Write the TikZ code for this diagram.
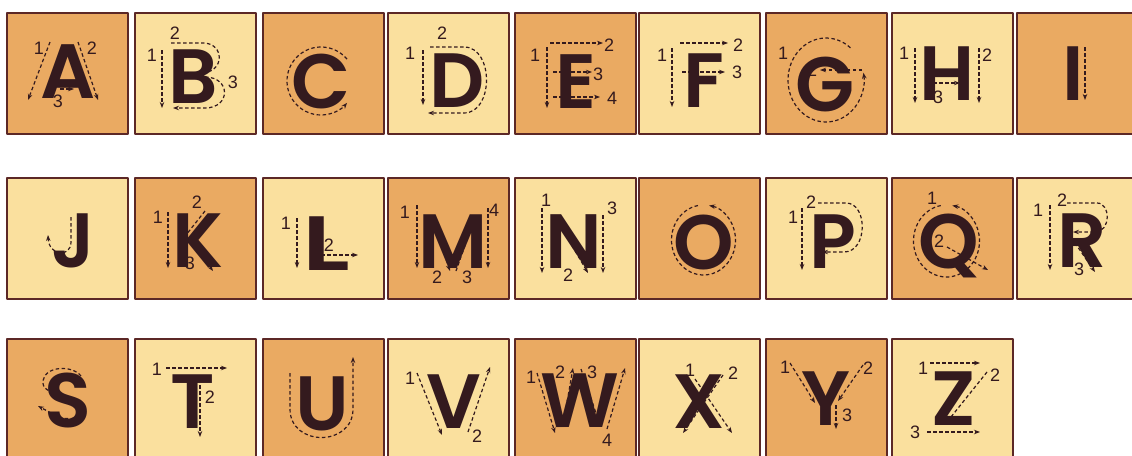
\documentclass[tikz,border=0pt]{standalone}
\usepackage{fontspec}
\setmainfont{Liberation Sans}
\IfFontExistsTF{Poppins SemiBold}
  {\newfontfamily\glyphfont{Poppins SemiBold}}
  {\newfontfamily\glyphbase{Poppins}\newcommand\glyphfont{\glyphbase\bfseries}}
\usetikzlibrary{arrows.meta}
\definecolor{tiledark}{RGB}{234,170,98}
\definecolor{tilelight}{RGB}{250,224,158}
\definecolor{rim}{RGB}{92,40,38}
\definecolor{ink}{RGB}{52,26,30}
\begin{document}
\begin{tikzpicture}[x=1pt, y=-1pt, line join=round,
    tile/.style={draw=rim, line width=1.6pt, minimum size=121pt, inner sep=0pt, outer sep=0pt},
    glyph/.style={anchor=base, inner sep=0pt, text=ink, font=\glyphfont\fontsize{77}{77}\selectfont},
    guide/.style={draw=ink, line width=1.2pt, dash pattern=on 3.5pt off 2.5pt, -{Stealth[length=6pt,width=4.5pt]}},
    num/.style={inner sep=0pt, text=ink, font=\fontsize{18}{18}\selectfont}]
  \useasboundingbox (0,0) rectangle (1132,455);
  \clip (0,0) rectangle (1132,455);
  % tiles
  \foreach \name/\tx/\ty/\shade in {A/7/13/tiledark, B/135/13/tilelight, C/263/13/tiledark,
      D/388/13/tilelight, E/515/13/tiledark, F/639/13/tilelight, G/766/13/tiledark,
      H/892/13/tilelight, I/1017/13/tiledark,
      J/7/178/tilelight, K/135/178/tiledark, L/263/178/tilelight, M/388/178/tiledark,
      N/515/178/tilelight, O/639/178/tiledark, P/766/178/tilelight, Q/892/178/tiledark,
      R/1017/178/tilelight,
      S/7/339/tiledark, T/135/339/tilelight, U/263/339/tiledark, V/388/339/tilelight,
      W/515/339/tiledark, X/639/339/tilelight, Y/766/339/tiledark, Z/892/339/tilelight}
    \node[tile, fill=\shade] (tile\name) at (\tx+60.5,\ty+60.5) {};
  % A
  \begin{scope}[shift={(tileA.north west)}]
    \node[glyph] (gA) at (61.5,85) {A};
    \draw[guide] (43,29) -- (21,87);
    \draw[guide] (71,29) -- (91,87);
    \draw[guide] (53,76) -- (67,76);
    \node[num] (A1) at (32,35) {1};
    \node[num] (A2) at (85,35) {2};
    \node[num] (A3) at (51,88) {3};
  \end{scope}
  % B
  \begin{scope}[shift={(tileB.north west)}]
    \node[glyph] (gB) at (58,90) {B};
    \draw[guide] (27,37) -- (27,95);
    \draw[guide] (36,30) -- (68,30) .. controls (90,30) and (90,60) .. (66,60) -- (42,60);
    \draw[guide] (70,64) .. controls (96,64) and (96,95) .. (70,95) -- (38,95);
    \node[num] (B1) at (17,42) {1};
    \node[num] (B2) at (40,20) {2};
    \node[num] (B3) at (98,69) {3};
  \end{scope}
  % C
  \begin{scope}[shift={(tileC.north west)}]
    \node[glyph] (gC) at (58,95) {C};
    \draw[guide] ({58+34*cos(-40)},{68+34*sin(-40)}) arc[start angle=-40, end angle=-320, x radius=34, y radius=34];
  \end{scope}
  % D
  \begin{scope}[shift={(tileD.north west)}]
    \node[glyph] (gD) at (69.5,94) {D};
    \draw[guide] (35,37) -- (35,92);
    \draw[guide] (42,34) -- (76,34) .. controls (106,34) and (106,100) .. (76,100) -- (40,100);
    \node[num] (D1) at (22,40) {1};
    \node[num] (D2) at (54,20) {2};
  \end{scope}
  % E
  \begin{scope}[shift={(tileE.north west)}]
    \node[glyph] (gE) at (61,95) {E};
    \draw[guide] (32,34) -- (32,95);
    \draw[guide] (35,30) -- (88,30);
    \draw[guide] (38,59) -- (77,59);
    \draw[guide] (38,84) -- (85,84);
    \node[num] (E1) at (20,42) {1};
    \node[num] (E2) at (94,32) {2};
    \node[num] (E3) at (83,61) {3};
    \node[num] (E4) at (97,85) {4};
  \end{scope}
  % F
  \begin{scope}[shift={(tileF.north west)}]
    \node[glyph] (gF) at (65,94) {F};
    \draw[guide] (33,35) -- (33,94);
    \draw[guide] (41,30) -- (89,30);
    \draw[guide] (43,59) -- (86,59);
    \node[num] (F1) at (23,42) {1};
    \node[num] (F2) at (99,32) {2};
    \node[num] (F3) at (98,59) {3};
  \end{scope}
  % G
  \begin{scope}[shift={(tileG.north west)}]
    \node[glyph] (gG) at (59,98) {G};
    \draw[guide] ({60+38*cos(-50)},{67+42*sin(-50)}) arc[start angle=-50, end angle=-370, x radius=38, y radius=42];
    \draw[guide] (96,57) -- (54,57);
    \node[num] (G1) at (17,40) {1};
    \node[num] (G2) at (46,57) {2};
  \end{scope}
  % H
  \begin{scope}[shift={(tileH.north west)}]
    \node[glyph] (gH) at (55,87) {H};
    \draw[guide] (23,35) -- (23,90);
    \draw[guide] (87,35) -- (87,90);
    \draw[guide] (41,70) -- (68,70);
    \node[num] (H1) at (12,40) {1};
    \node[num] (H2) at (95,42) {2};
    \node[num] (H3) at (46,84) {3};
  \end{scope}
  % I
  \begin{scope}[shift={(tileI.north west)}]
    \node[glyph] (gI) at (56,87) {I};
    \draw[guide] (68,34) -- (68,87);
  \end{scope}
  % J
  \begin{scope}[shift={(tileJ.north west)}]
    \node[glyph] (gJ) at (66,89) {J};
    \draw[guide] (64,39) -- (64,64) .. controls (64,80) and (42,78) .. (41,57);
  \end{scope}
  % K
  \begin{scope}[shift={(tileK.north west)}]
    \node[glyph] (gK) at (63,89) {K};
    \draw[guide] (33,34) -- (33,90);
    \draw[guide] (70,33) -- (47,62);
    \draw[guide] (60,68) -- (78,93);
    \node[num] (K1) at (23,39) {1};
    \node[num] (K2) at (62,24) {2};
    \node[num] (K3) at (55,85) {3};
  \end{scope}
  % L
  \begin{scope}[shift={(tileL.north west)}]
    \node[glyph] (gL) at (63,92) {\scalebox{1.35}[1]{L}};
    \draw[guide] (34,40) -- (34,90);
    \draw[guide] (58,77) -- (95,77);
    \node[num] (L1) at (23,45) {1};
    \node[num] (L2) at (66,67) {2};
  \end{scope}
  % M
  \begin{scope}[shift={(tileM.north west)}]
    \node[glyph] (gM) at (65,90) {M};
    \draw[guide] (29,27) -- (29,90);
    \draw[guide] (45,42) -- (62,93);
    \draw[guide] (68,93) -- (86,42);
    \draw[guide] (100,30) -- (100,90);
    \node[num] (M1) at (17,34) {1};
    \node[num] (M2) at (49,99) {2};
    \node[num] (M3) at (79,99) {3};
    \node[num] (M4) at (106,32) {4};
  \end{scope}
  % N
  \begin{scope}[shift={(tileN.north west)}]
    \node[glyph] (gN) at (59,90) {N};
    \draw[guide] (27,30) -- (27,95);
    \draw[guide] (42,42) -- (73,95);
    \draw[guide] (88,37) -- (88,95);
    \node[num] (N1) at (31,22) {1};
    \node[num] (N2) at (53,97) {2};
    \node[num] (N3) at (97,30) {3};
  \end{scope}
  % O
  \begin{scope}[shift={(tileO.north west)}]
    \node[glyph] (gO) at (64.5,91) {O};
    \draw[guide] ({64.5+32*cos(-100)},{62+35*sin(-100)}) arc[start angle=-100, end angle=-440, x radius=32, y radius=35];
  \end{scope}
  % P
  \begin{scope}[shift={(tileP.north west)}]
    \node[glyph] (gP) at (66.5,90) {P};
    \draw[guide] (36,30) -- (36,92);
    \draw[guide] (52,25) -- (80,25) .. controls (102,25) and (102,74) .. (78,74) -- (56,74);
    \node[num] (P1) at (27,39) {1};
    \node[num] (P2) at (45,24) {2};
  \end{scope}
  % Q
  \begin{scope}[shift={(tileQ.north west)}]
    \node[glyph] (gQ) at (57,90) {Q};
    \draw[guide] ({54.5+33*cos(-100)},{63+36*sin(-100)}) arc[start angle=-100, end angle=-440, x radius=33, y radius=36];
    \draw[guide] (55,69) -- (96,92);
    \node[num] (Q1) at (40,20) {1};
    \node[num] (Q2) at (47,63) {2};
  \end{scope}
  % R
  \begin{scope}[shift={(tileR.north west)}]
    \node[glyph] (gR) at (65.5,89) {R};
    \draw[guide] (33,27) -- (33,92);
    \draw[guide] (50,25) -- (80,25) .. controls (94,25) and (94,54) .. (78,54) -- (56,54);
    \draw[guide] (58,65) -- (78,94);
    \node[num] (R1) at (21,32) {1};
    \node[num] (R2) at (45,22) {2};
    \node[num] (R3) at (62,91) {3};
  \end{scope}
  % S
  \begin{scope}[shift={(tileS.north west)}]
    \node[glyph] (gS) at (60.5,88) {S};
    \draw[guide] (74,37) .. controls (66,26) and (36,26) .. (36,44)
      .. controls (36,58) and (76,56) .. (77,70) .. controls (78,82) and (52,82) .. (44,74) -- (31,67);
  \end{scope}
  % T
  \begin{scope}[shift={(tileT.north west)}]
    \node[glyph] (gT) at (57.5,89) {T};
    \draw[guide] (31,29) -- (92,29);
    \draw[guide] (65,46) -- (65,98);
    \node[num] (T1) at (22,30) {1};
    \node[num] (T2) at (75,58) {2};
  \end{scope}
  % U
  \begin{scope}[shift={(tileU.north west)}]
    \node[glyph] (gU) at (59,91) {U};
    \draw[guide] (27,34) -- (27,70) .. controls (27,108) and (90,108) .. (90,70) -- (90,18);
  \end{scope}
  % V
  \begin{scope}[shift={(tileV.north west)}]
    \node[glyph] (gV) at (65.5,89) {V};
    \draw[guide] (29,34) -- (54,96);
    \draw[guide] (80,93) -- (102,28);
    \node[num] (V1) at (22,39) {1};
    \node[num] (V2) at (89,97) {2};
  \end{scope}
  % W
  \begin{scope}[shift={(tileW.north west)}]
    \node[glyph] (gW) at (65,88) {W};
    \draw[guide] (22,34) -- (40,94);
    \draw[guide] (48,86) -- (58,29);
    \draw[guide] (66,30) -- (85,86);
    \draw[guide] (92,90) -- (110,29);
    \node[num] (W1) at (16,38) {1};
    \node[num] (W2) at (45,33) {2};
    \node[num] (W3) at (77,33) {3};
    \node[num] (W4) at (92,101) {4};
  \end{scope}
  % X
  \begin{scope}[shift={(tileX.north west)}]
    \node[glyph] (gX) at (59.5,89) {X};
    \draw[guide] (56,40) -- (93,94);
    \draw[guide] (84,36) -- (44,94);
    \node[num] (X1) at (51,31) {1};
    \node[num] (X2) at (94,34) {2};
  \end{scope}
  % Y
  \begin{scope}[shift={(tileY.north west)}]
    \node[glyph] (gY) at (60,86) {Y};
    \draw[guide] (24,24) -- (49,64);
    \draw[guide] (97,26) -- (72,62);
    \draw[guide] (70,66) -- (70,90);
    \node[num] (Y1) at (19,28) {1};
    \node[num] (Y2) at (102,29) {2};
    \node[num] (Y3) at (81,76) {3};
  \end{scope}
  % Z
  \begin{scope}[shift={(tileZ.north west)}]
    \node[glyph] (gZ) at (62,86) {Z};
    \draw[guide] (38,24) -- (88,24);
    \draw[guide] (95,33) -- (55,83);
    \draw[guide] (35,93) -- (88,93);
    \node[num] (Z1) at (31,29) {1};
    \node[num] (Z2) at (103,36) {2};
    \node[num] (Z3) at (23,93) {3};
  \end{scope}
\end{tikzpicture}
\end{document}
